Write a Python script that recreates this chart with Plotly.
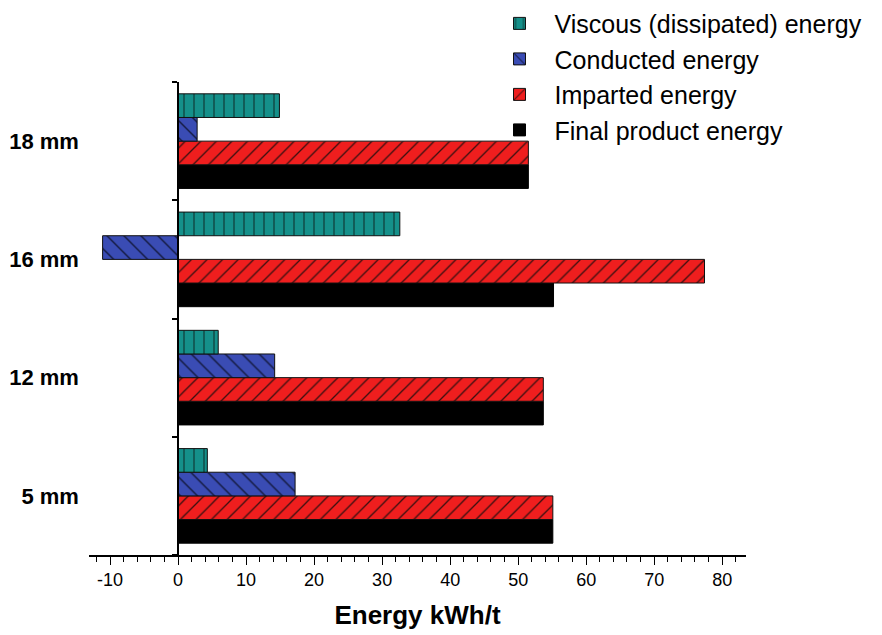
import plotly.graph_objects as go

categories = ["5 mm", "12 mm", "16 mm", "18 mm"]
viscous = [4.3, 5.9, 32.6, 14.9]
conducted = [17.2, 14.2, -11.1, 2.8]
imparted = [55.1, 53.7, 77.4, 51.5]
final_product = [55.1, 53.7, 55.2, 51.5]

x_tick_vals = [-10, 0, 10, 20, 30, 40, 50, 60, 70, 80]
x_tick_text = ["-10", "0", "10", "20", "30", "40", "50", "60", "70", "80"]

FONT = "Liberation Sans, Arial, sans-serif"

fig = go.Figure()

# added bottom-to-top within each group (Plotly places first trace lowest)
fig.add_trace(go.Bar(
    y=categories, x=final_product, orientation="h", name="Final product energy",
    marker=dict(color="#000000", line=dict(color="#000000", width=1)),
))
fig.add_trace(go.Bar(
    y=categories, x=imparted, orientation="h", name="Imparted energy",
    marker=dict(color="#ef1e1e", line=dict(color="#111111", width=1),
                pattern=dict(shape="/", fillmode="replace", bgcolor="#ef1e1e",
                             fgcolor="#3a1010", size=11, solidity=0.12)),
))
fig.add_trace(go.Bar(
    y=categories, x=conducted, orientation="h", name="Conducted energy",
    marker=dict(color="#3a4cb4", line=dict(color="#111111", width=1),
                pattern=dict(shape="\\", fillmode="replace", bgcolor="#3a4cb4",
                             fgcolor="#141a40", size=12, solidity=0.12)),
))
fig.add_trace(go.Bar(
    y=categories, x=viscous, orientation="h", name="Viscous (dissipated) energy",
    marker=dict(color="#15908a", line=dict(color="#111111", width=1),
                pattern=dict(shape="|", fillmode="replace", bgcolor="#15908a",
                             fgcolor="#0d3a36", size=10, solidity=0.12)),
))

W, H = 882, 635
ml, mt = 81, 74
plot_w, plot_h = 657, 473
mr = W - ml - plot_w
mb = H - mt - plot_h
x_min, x_max = -13.1, 83.5
y_axis_pos = (0 - x_min) / (x_max - x_min)

fig.update_layout(
    width=W, height=H,
    margin=dict(l=ml, r=mr, t=mt, b=mb, autoexpand=False),
    paper_bgcolor="white", plot_bgcolor="white",
    barmode="group", bargap=0.2, bargroupgap=0.0,
    font=dict(family=FONT, color="black"),
    showlegend=True,
    legend=dict(
        traceorder="reversed",
        x=0.602, y=1.172, xanchor="left", yanchor="top",
        font=dict(size=25, family=FONT, color="black"),
        bgcolor="rgba(0,0,0,0)", tracegroupgap=0,
        itemwidth=60,
    ),
    xaxis=dict(
        range=[x_min, x_max],
        tickvals=x_tick_vals, ticktext=x_tick_text,
        ticks="outside", ticklen=8, tickwidth=1.2, tickcolor="black",
        minor=dict(dtick=2, tick0=0, ticks="outside", ticklen=5, tickwidth=1, tickcolor="black"),
        showline=True, linecolor="black", linewidth=1.5,
        showgrid=False, zeroline=False,
        tickfont=dict(size=18, family=FONT, color="black"),
        title=dict(text="Energy kWh/t", font=dict(size=26, family=FONT, color="black", weight="bold"),
                   standoff=16),
        automargin=False,
    ),
    yaxis=dict(
        type="category", categoryorder="array", categoryarray=categories,
        range=[-0.5, 3.5],
        anchor="free", position=y_axis_pos,
        showline=True, linecolor="black", linewidth=1.5,
        ticks="outside", ticklen=5, tickwidth=1.5, tickcolor="black",
        tickson="boundaries",
        showgrid=False, zeroline=False,
        tickfont=dict(size=22, family=FONT, color="black", weight="bold"),
        ticklabelstandoff=94,
        automargin=False,
    ),
)

fig.write_html("out.html")
